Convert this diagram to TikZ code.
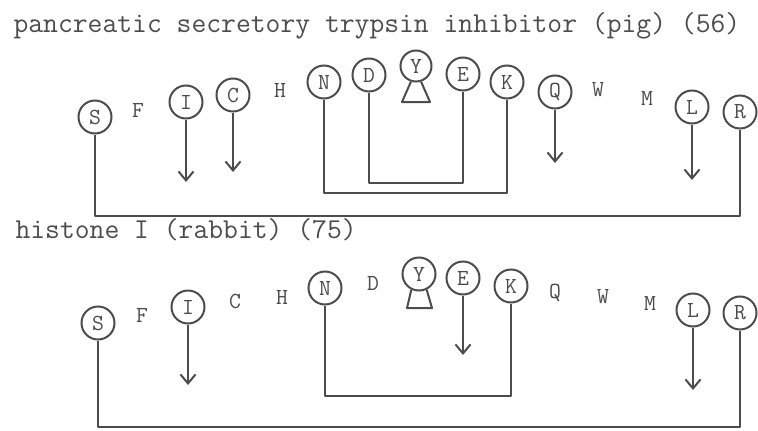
\documentclass[tikz,border=0pt]{standalone}
\usepackage{fontspec}
\usetikzlibrary{arrows.meta}
\definecolor{ink}{gray}{0.3}
\begin{document}
\begin{tikzpicture}[x=1pt,y=-1pt,
  every node/.style={text=ink,font=\ttfamily\fontsize{23}{23}\selectfont},
  res/.style={draw=ink,circle,line width=2pt,minimum size=33pt,inner sep=0pt},
  bond/.style={draw=ink,line width=2pt,line join=round},
  arr/.style={bond,-{Straight Barb[length=9pt,width=15pt]}},
  title/.style={anchor=base west,font=\ttfamily\fontsize{28.8}{28.8}\selectfont}]
  \useasboundingbox (0,0) rectangle (758,431);
  % pancreatic secretory trypsin inhibitor
  \node[title] (atitle) at (10,32) {pancreatic secretory trypsin inhibitor (pig) (56)};
  \node[res] (aS) at (95,117) {S};
  \node (aF) at (138,110) {F};
  \node[res] (aI) at (186,102) {I};
  \node[res] (aC) at (233,95) {C};
  \node (aH) at (280,90) {H};
  \node[res] (aN) at (324,82) {N};
  \node[res] (aD) at (369,75) {D};
  \node[res, minimum size=31pt] (aY) at (416,66) {Y};
  \node[res] (aE) at (463,74) {E};
  \node[res] (aK) at (507,82) {K};
  \node[res] (aQ) at (555,92) {Q};
  \node (aW) at (598,90) {W};
  \node (aM) at (647,98) {M};
  \node[res] (aL) at (692,107) {L};
  \node[res] (aR) at (740,112) {R};
  \coordinate (aSR) at (0,216);
  \coordinate (aNK) at (0,193);
  \coordinate (aDE) at (0,183);
  \coordinate (aIend) at (186,182);
  \coordinate (aCend) at (233,172);
  \coordinate (aQend) at (555,163);
  \coordinate (aLend) at (692,180);
  \coordinate (aYl) at (402,102);
  \coordinate (aYr) at (430,102);
  \draw[bond] (aS) -- (aS |- aSR) -| (aR);
  \draw[bond] (aN) -- (aN |- aNK) -| (aK);
  \draw[bond] (aD) -- (aD |- aDE) -| (aE);
  \draw[arr] (aI) -- (aIend);
  \draw[arr] (aC) -- (aCend);
  \draw[arr] (aQ) -- (aQend);
  \draw[arr] (aL) -- (aLend);
  \draw[bond] (aY.252) -- (aYl) -- (aYr) -- (aY.288);
  % histone I
  \node[title] (btitle) at (12,238) {histone I (rabbit) (75)};
  \node[res] (bS) at (98,323) {S};
  \node (bF) at (142,315) {F};
  \node[res] (bI) at (188,307) {I};
  \node (bC) at (235,301) {C};
  \node (bH) at (282,297) {H};
  \node[res] (bN) at (325,288) {N};
  \node (bD) at (373,283) {D};
  \node[res] (bY) at (419,274) {Y};
  \node[res] (bE) at (463,278) {E};
  \node[res] (bK) at (511,286) {K};
  \node (bQ) at (555,293) {Q};
  \node (bW) at (603,297) {W};
  \node (bM) at (650,303) {M};
  \node[res] (bL) at (693,310) {L};
  \node[res] (bR) at (740,313) {R};
  \coordinate (bSR) at (0,427);
  \coordinate (bNK) at (0,396);
  \coordinate (bIend) at (188,385);
  \coordinate (bEend) at (463,355);
  \coordinate (bLend) at (693,390);
  \coordinate (bYl) at (407,308);
  \coordinate (bYr) at (432,308);
  \draw[bond] (bS) -- (bS |- bSR) -| (bR);
  \draw[bond] (bN) -- (bN |- bNK) -| (bK);
  \draw[arr] (bI) -- (bIend);
  \draw[arr] (bE) -- (bEend);
  \draw[arr] (bL) -- (bLend);
  \draw[bond] (bY.244) -- (bYl) -- (bYr) -- (bY.296);
\end{tikzpicture}
\end{document}
